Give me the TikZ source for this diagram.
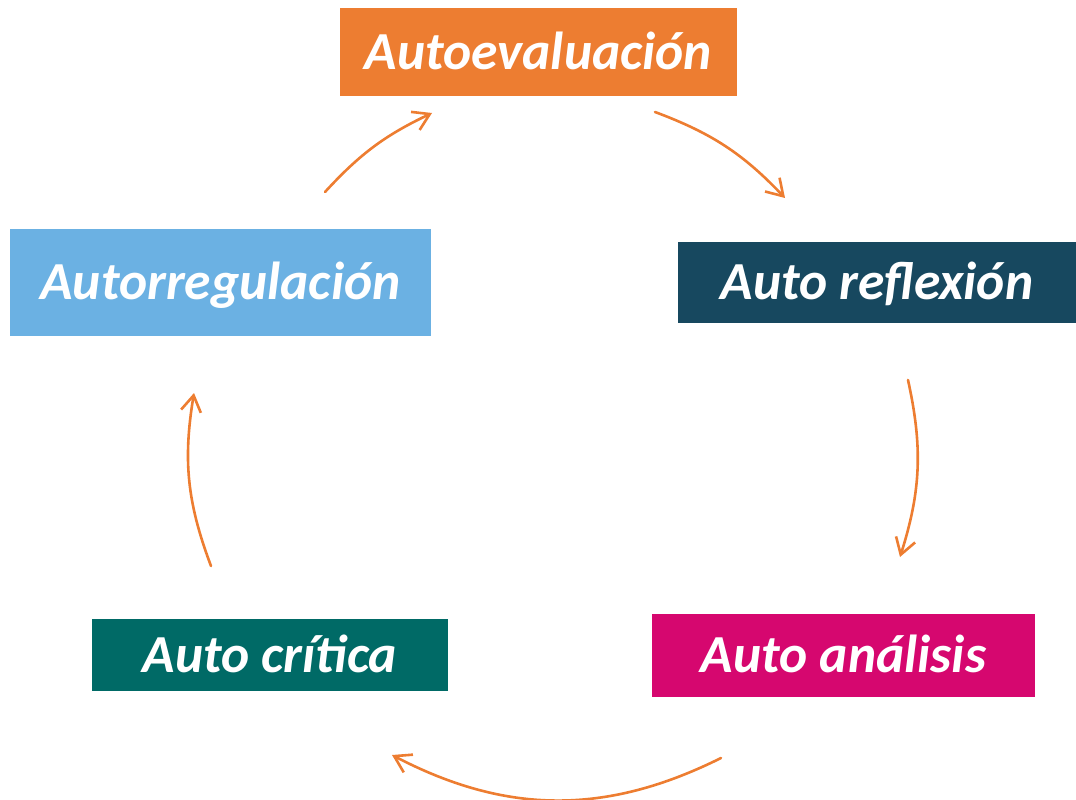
\documentclass[tikz,border=0pt]{standalone}
\usepackage{fontspec}
\setmainfont{Carlito}
\usetikzlibrary{arrows.meta}
\definecolor{cOrange}{HTML}{ED7D31}
\definecolor{cNavy}{HTML}{17485F}
\definecolor{cSky}{HTML}{6BB1E3}
\definecolor{cTeal}{HTML}{006A66}
\definecolor{cMagenta}{HTML}{D6076F}
\tikzset{
  box/.style={draw=none, inner sep=0pt, text=white, font=\fontsize{53.5}{60}\selectfont\bfseries\itshape,
    text height=34.5pt, text depth=0pt, anchor=center},
  cyc/.style={draw=cOrange, line width=2.6pt, line cap=round,
    -{Straight Barb[length=16pt, width=20pt, line width=2.6pt]}},
}
\begin{document}
\begin{tikzpicture}[x=1pt,y=-1pt]
\useasboundingbox (0,0) rectangle (1076,800);
% boxes
\node[box, fill=cOrange, minimum width=397pt, minimum height=88pt] (eval) at (538.5,52) {Autoevaluación};
\node[box, fill=cNavy, minimum width=398pt, minimum height=81pt] (refl) at (877,282.5) {Auto reflexión};
\node[box, fill=cSky, minimum width=421pt, minimum height=107pt] (regu) at (220.5,282.5) {Autorregulación};
\node[box, fill=cTeal, minimum width=356pt, minimum height=72pt] (crit) at (270,655) {Auto crítica};
\node[box, fill=cMagenta, minimum width=383pt, minimum height=83pt] (anal) at (843.5,655.5) {Auto análisis};
% arrow end points
\coordinate (a1s) at (325,192);
\coordinate (a1e) at (432,113);
\coordinate (a2s) at (655,112);
\coordinate (a2e) at (785,198);
\coordinate (a3s) at (908,380);
\coordinate (a3e) at (900,557);
\coordinate (a4s) at (721,758);
\coordinate (a4e) at (392,755);
\coordinate (a5s) at (211,566);
\coordinate (a5e) at (194,393);
\draw[cyc] (a1s) to[bend left=11] (a1e);
\draw[cyc] (a2s) to[bend left=13] (a2e);
\draw[cyc] (a3s) to[bend left=15] (a3e);
\draw[cyc] (a4s) to[bend left=27] (a4e);
\draw[cyc] (a5s) to[bend left=15] (a5e);
\end{tikzpicture}
\end{document}
